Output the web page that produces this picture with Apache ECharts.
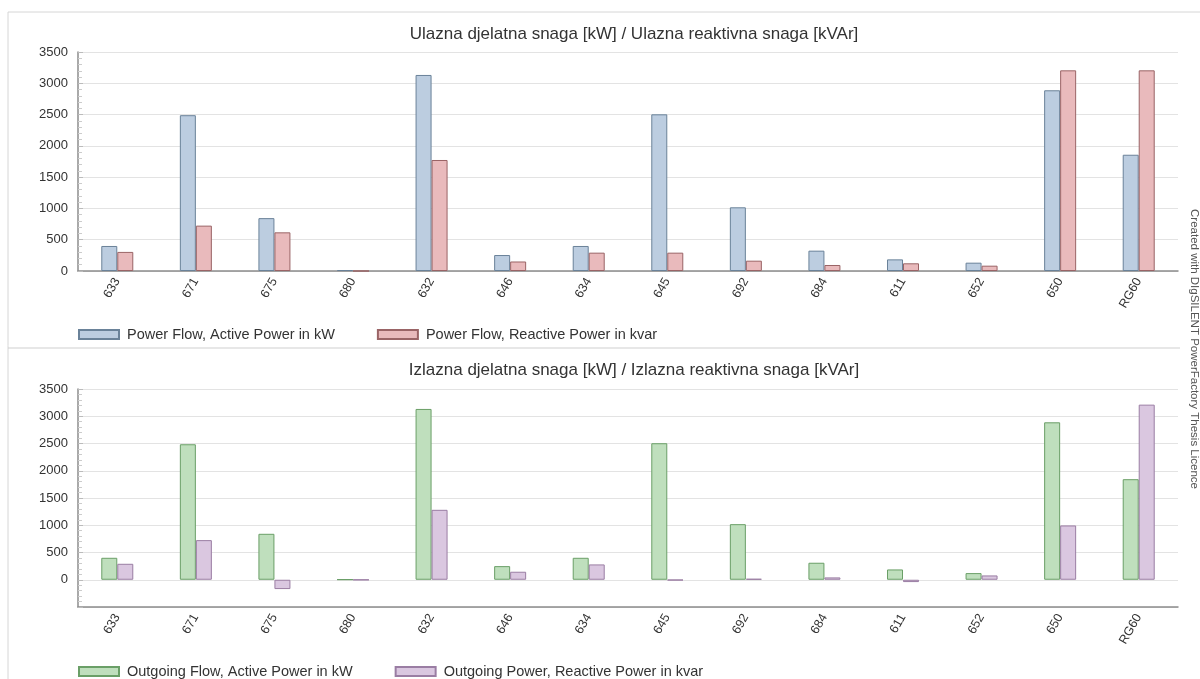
<!DOCTYPE html>
<html>
<head>
<meta charset="utf-8">
<script src="https://cdn.jsdelivr.net/npm/echarts@6/dist/echarts.min.js"></script>
<style>html,body{margin:0;padding:0;background:#fff}#c{width:1200px;height:679px}</style>
</head>
<body>
<div id="c"></div>
<script>
const categories = ['633','671','675','680','632','646','634','645','692','684','611','652','650','RG60'];
const inActive = [400, 2490, 845, 15, 3133, 255, 400, 2504, 1018, 325, 186, 133, 2888, 1858];
const inReactive = [305, 725, 618, 0, 1774, 152, 293, 293, 165, 96, 123, 85, 3207, 3207];
const outActive = [403, 2486, 843, 5, 3134, 250, 403, 2505, 1020, 312, 189, 122, 2889, 1845];
const outReactive = [293, 727, -171, -3, 1283, 147, 281, -10, 18, 43, -43, 79, 996, 3213];
const topTitle = 'Ulazna djelatna snaga [kW] / Ulazna reaktivna snaga [kVAr]';
const bottomTitle = 'Izlazna djelatna snaga [kW] / Izlazna reaktivna snaga [kVAr]';
const names = ['Power Flow, Active Power in kW','Power Flow, Reactive Power in kvar','Outgoing Flow, Active Power in kW','Outgoing Power, Reactive Power in kvar'];
const yTicks = {min1: 0, min2: -500, max: 3500, step: 500};

const FONT = 'Liberation Sans, Arial, sans-serif';
const chart = echarts.init(document.getElementById('c'));

function xAxis(gi) {
  return {
    type: 'category', gridIndex: gi, data: categories,
    axisLine: {onZero: false, lineStyle: {color: '#8c8c8c', width: 1.5}},
    axisTick: {show: false},
    axisLabel: {rotate: 60, color: '#333', fontSize: 12.5, fontFamily: FONT, margin: 8}
  };
}
function yAxis(gi, min) {
  return {
    type: 'value', gridIndex: gi, min: min, max: yTicks.max, interval: yTicks.step,
    axisLine: {show: true, lineStyle: {color: '#8c8c8c', width: 1.5}},
    axisTick: {show: true, inside: true, length: 5, lineStyle: {color: '#bbb'}},
    minorTick: {show: true, splitNumber: 5, length: 4, lineStyle: {color: '#ccc'}},
    splitLine: {lineStyle: {color: '#e3e3e3'}},
    axisLabel: {color: '#333', fontSize: 13, fontFamily: FONT, margin: 10,
      formatter: v => (v < 0 ? '' : String(v))}
  };
}
function bar(name, data, gi, fill, border) {
  return {
    name: name, type: 'bar', xAxisIndex: gi, yAxisIndex: gi, data: data,
    barWidth: 16, barGap: '0%',
    itemStyle: {color: fill, borderColor: border, borderWidth: 1},
    emphasis: {disabled: true}
  };
}
const legendCommon = {
  itemWidth: 40, itemHeight: 9, itemGap: 42, icon: 'rect',
  textStyle: {color: '#333', fontSize: 14.5, fontFamily: FONT, padding: [0, 0, 0, 3]}
};

chart.setOption({
  animation: false,
  title: [
    {text: topTitle, left: 629, top: 21, textAlign: 'center',
     textStyle: {fontSize: 17, fontWeight: 'normal', color: '#333', fontFamily: FONT}},
    {text: bottomTitle, left: 629, top: 357, textAlign: 'center',
     textStyle: {fontSize: 17, fontWeight: 'normal', color: '#333', fontFamily: FONT}}
  ],
  legend: [
    Object.assign({left: 73, top: 322, data: [names[0], names[1]]}, legendCommon),
    Object.assign({left: 73, top: 659, data: [names[2], names[3]]}, legendCommon)
  ],
  grid: [
    {left: 78, right: 22, top: 52, height: 219},
    {left: 78, right: 22, top: 389, height: 218}
  ],
  xAxis: [xAxis(0), xAxis(1)],
  yAxis: [yAxis(0, yTicks.min1), yAxis(1, yTicks.min2)],
  series: [
    bar(names[0], inActive, 0, '#bccde0', '#6a8299'),
    bar(names[1], inReactive, 0, '#e9babc', '#9a6466'),
    bar(names[2], outActive, 1, '#bfdfbd', '#6a9f67'),
    bar(names[3], outReactive, 1, '#dac7e0', '#9a7da3')
  ],
  graphic: [
    {type: 'line', shape: {x1: 8, y1: 12, x2: 1200, y2: 12}, style: {stroke: '#d6d6d6', lineWidth: 1}, silent: true},
    {type: 'line', shape: {x1: 8, y1: 12, x2: 8, y2: 679}, style: {stroke: '#d6d6d6', lineWidth: 1}, silent: true},
    {type: 'line', shape: {x1: 8, y1: 348, x2: 1180, y2: 348}, style: {stroke: '#cfcfcf', lineWidth: 1}, silent: true},
    {type: 'text', x: 1194, y: 349, rotation: -Math.PI / 2,
     style: {text: 'Created with DIgSILENT PowerFactory Thesis Licence', fill: '#555', fontSize: 11.5,
             fontFamily: FONT, align: 'center', verticalAlign: 'middle'}, silent: true}
  ]
});
</script>
</body>
</html>
